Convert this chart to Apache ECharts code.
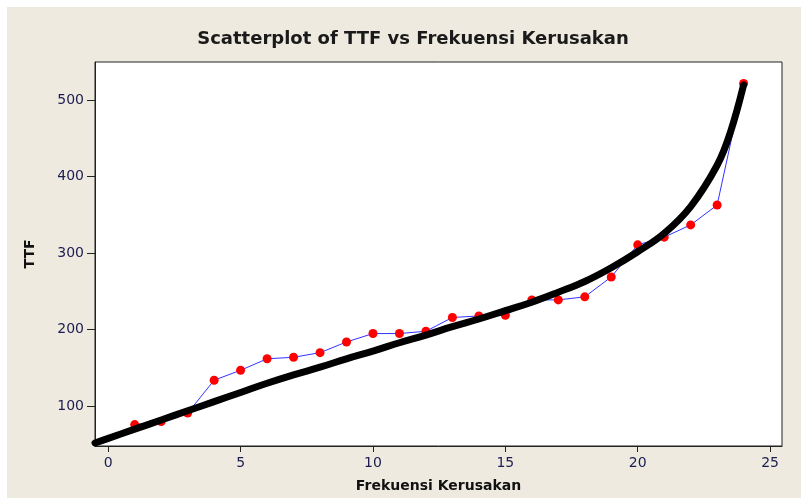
<!DOCTYPE html>
<html>
<head>
<meta charset="utf-8">
<script src="https://cdn.jsdelivr.net/npm/echarts@6/dist/echarts.min.js"></script>
<style>
  body { margin: 0; background: #fff; }
  #bg { position: absolute; left: 7px; top: 7px; width: 794px; height: 491px; background: #eeeae0; }
  #main { position: absolute; left: 0; top: 0; width: 801px; height: 499px; }
</style>
</head>
<body>
<div id="bg"></div>
<div id="main"></div>
<script>
// observed values
var frek = [1, 2, 3, 4, 5, 6, 7, 8, 9, 10, 11, 12, 13, 14, 15, 16, 17, 18, 19, 20, 21, 22, 23, 24];
var ttf = [76, 80, 91, 134, 147, 162, 164, 170, 184, 195, 195, 198, 216, 218, 219, 239, 239, 243, 269, 311, 321, 337, 363, 522];

// fitted curve
var fitX = [-0.5, 0, 1, 2, 3, 4, 5, 6, 7, 8, 9, 10, 11, 12, 13, 14, 15, 16, 17, 18, 19, 20, 21, 22, 23, 23.5, 24];
var fitY = [52, 58, 70, 82, 94, 106, 118, 130, 141, 151, 162, 172, 183, 193, 204, 214, 225, 236, 249, 263, 281, 302, 326, 361, 415, 458, 520];

var xTicks = [0, 5, 10, 15, 20, 25];
var yTicks = [100, 200, 300, 400, 500];

var chart = echarts.init(document.getElementById('main'));

chart.setOption({
  backgroundColor: 'transparent',
  animation: false,
  title: {
    text: 'Scatterplot of TTF vs Frekuensi Kerusakan',
    left: 408,
    textAlign: 'center',
    top: 25,
    textStyle: { fontFamily: 'DejaVu Sans', fontWeight: 'bold', fontSize: 18, color: '#1a1a1a' }
  },
  grid: {
    left: 95, top: 62, right: 19, bottom: 53,
    show: true, backgroundColor: '#fff', borderColor: '#222', borderWidth: 1
  },
  xAxis: {
    type: 'value',
    min: -0.5, max: 25.45,
    name: 'Frekuensi Kerusakan',
    nameLocation: 'middle',
    nameGap: 33,
    nameTextStyle: { fontFamily: 'DejaVu Sans', fontWeight: 'bold', fontSize: 14, color: '#111' },
    axisLine: { show: true, onZero: false, lineStyle: { color: '#222' } },
    axisTick: { show: true, length: 6, customValues: xTicks, lineStyle: { color: '#222' } },
    axisLabel: { customValues: xTicks, margin: 10, fontFamily: 'DejaVu Sans', fontSize: 14, color: '#1c1c50' },
    splitLine: { show: false }
  },
  yAxis: {
    type: 'value',
    min: 48, max: 550,
    name: 'TTF',
    nameLocation: 'middle',
    nameGap: 58,
    nameTextStyle: { fontFamily: 'DejaVu Sans', fontWeight: 'bold', fontSize: 14, color: '#111' },
    axisLine: { show: true, onZero: false, lineStyle: { color: '#222' } },
    axisTick: { show: true, length: 8, customValues: yTicks, lineStyle: { color: '#222' } },
    axisLabel: { customValues: yTicks, margin: 11, fontFamily: 'DejaVu Sans', fontSize: 14, color: '#1c1c50' },
    splitLine: { show: false }
  },
  series: [
    {
      type: 'line',
      data: frek.map(function (x, i) { return [x, ttf[i]]; }),
      symbol: 'circle',
      symbolSize: 9,
      showAllSymbol: true,
      lineStyle: { color: '#3333ff', width: 1 },
      itemStyle: { color: '#ff0000' },
      z: 2
    },
    {
      type: 'line',
      data: fitX.map(function (x, i) { return [x, fitY[i]]; }),
      smooth: 0.4,
      showSymbol: false,
      lineStyle: { color: '#000', width: 7, cap: 'round' },
      z: 3
    }
  ]
});
</script>
</body>
</html>
